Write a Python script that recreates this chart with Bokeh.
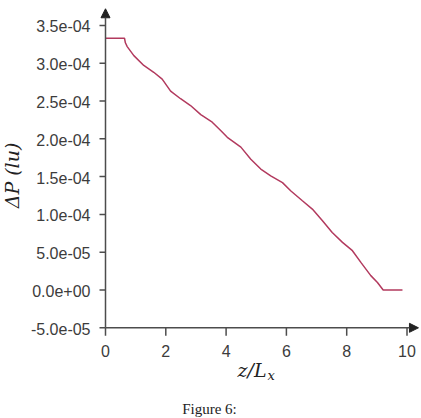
import math
from bokeh.plotting import figure
from bokeh.models import Range1d, Arrow, NormalHead
from bokeh.core.properties import value
from bokeh.embed import file_html
from bokeh.resources import INLINE

# ---- data ----
z_over_lx = [0.0, 0.63, 0.66, 0.72, 0.94, 1.27, 1.60, 1.88, 2.16, 2.49, 2.82,
             3.16, 3.54, 3.82, 4.04, 4.49, 4.82, 5.15, 5.48, 5.87, 6.15,
             6.53, 6.86, 7.19, 7.52, 7.86, 8.19, 8.47, 8.80, 9.02, 9.21, 9.85]
delta_p_e4 = [3.33, 3.33, 3.27, 3.22, 3.10, 2.97, 2.88, 2.79, 2.63, 2.53, 2.44,
              2.32, 2.22, 2.11, 2.02, 1.89, 1.73, 1.60, 1.51, 1.42, 1.31,
              1.18, 1.07, 0.92, 0.76, 0.63, 0.52, 0.365, 0.19, 0.10, 0.0, 0.0]
delta_p = [v * 1e-4 for v in delta_p_e4]

x_ticks = [0, 2, 4, 6, 8, 10]
x_tick_labels = ["0", "2", "4", "6", "8", "10"]
y_ticks = [-5e-05, 0.0, 5e-05, 1e-04, 1.5e-04, 2e-04, 2.5e-04, 3e-04, 3.5e-04]
y_tick_labels = ["-5.0e-05", "0.0e+00", "5.0e-05", "1.0e-04", "1.5e-04",
                 "2.0e-04", "2.5e-04", "3.0e-04", "3.5e-04"]

x_axis_min = 0.0
y_axis_min = -5e-05
x_arrow_end = 10.38
y_arrow_end = 3.72e-04

# ---- pixel scale of the reference layout ----
W, H = 421, 418
ox, oy = 105.0, 327.3            # pixel position of the axes origin
px_per_x = 30.15
px_per_y = 37.8 / 5e-05

x0 = x_axis_min - ox / px_per_x
x1 = x_axis_min + (W - ox) / px_per_x
y0 = y_axis_min - (H - oy) / px_per_y
y1 = y_axis_min + oy / px_per_y

def dx(px):
    return x_axis_min + (px - ox) / px_per_x

def dy(py):
    return y_axis_min + (oy - py) / px_per_y

p = figure(width=W, height=H, output_backend="svg", toolbar_location=None,
           x_range=Range1d(x0, x1), y_range=Range1d(y0, y1),
           min_border=0)
p.axis.visible = False
p.outline_line_color = None
p.grid.visible = False
p.background_fill_color = "white"
p.border_fill_color = "white"

axis_col = "#4d4d4d"
lab_col = "#3c3c3c"

# data line
p.line(z_over_lx, delta_p, line_color="#b23a5e", line_width=1.5)

# axes with arrows
head = dict(size=9, line_color="#222222", fill_color="#222222")
p.add_layout(Arrow(end=NormalHead(**head), x_start=x_axis_min, y_start=y_axis_min,
                   x_end=x_arrow_end, y_end=y_axis_min,
                   line_color=axis_col, line_width=1.5))
p.add_layout(Arrow(end=NormalHead(**head), x_start=x_axis_min, y_start=y_axis_min,
                   x_end=x_axis_min, y_end=y_arrow_end,
                   line_color=axis_col, line_width=1.5))

# ticks
xt_len = 8 / px_per_y
yt_len = 6 / px_per_x
p.segment(x0=x_ticks, y0=[y_axis_min] * len(x_ticks),
          x1=x_ticks, y1=[y_axis_min - xt_len] * len(x_ticks),
          line_color=axis_col, line_width=1.5)
p.segment(x0=[x_axis_min] * len(y_ticks), y0=y_ticks,
          x1=[x_axis_min - yt_len] * len(y_ticks), y1=y_ticks,
          line_color=axis_col, line_width=1.5)

# tick labels
p.text(x=x_ticks, y=[y_axis_min] * len(x_ticks), text=x_tick_labels,
       y_offset=17, text_align="center", text_baseline="top",
       text_font=value("Liberation Sans"), text_font_size="16px",
       text_color=lab_col)
p.text(x=[x_axis_min] * len(y_ticks), y=y_ticks, text=y_tick_labels,
       x_offset=-15, y_offset=1, text_align="right", text_baseline="middle",
       text_font=value("Liberation Sans"), text_font_size="16px",
       text_color=lab_col)

# axis titles & caption
serif = value("DejaVu Serif")
p.text(x=[dx(11)], y=[dy(175)], text=["ΔP (lu)"], angle=math.pi / 2,
       text_font=serif, text_font_style="italic", text_font_size="19px",
       text_color="#222222", text_align="center", text_baseline="middle")
p.text(x=[dx(266)], y=[dy(369)], text=["z/L"], text_font=serif,
       text_font_style="italic", text_font_size="19px", text_color="#222222",
       text_align="right", text_baseline="middle")
p.text(x=[dx(267)], y=[dy(375)], text=["x"], text_font=serif,
       text_font_style="italic", text_font_size="13px", text_color="#222222",
       text_align="left", text_baseline="middle")
p.text(x=[dx(209)], y=[dy(408)], text=["Figure 6:"],
       text_font=value("Liberation Serif"), text_font_size="15px",
       text_color="#222222", text_align="center", text_baseline="middle")

open("out.html", "w").write(file_html(p, INLINE))
